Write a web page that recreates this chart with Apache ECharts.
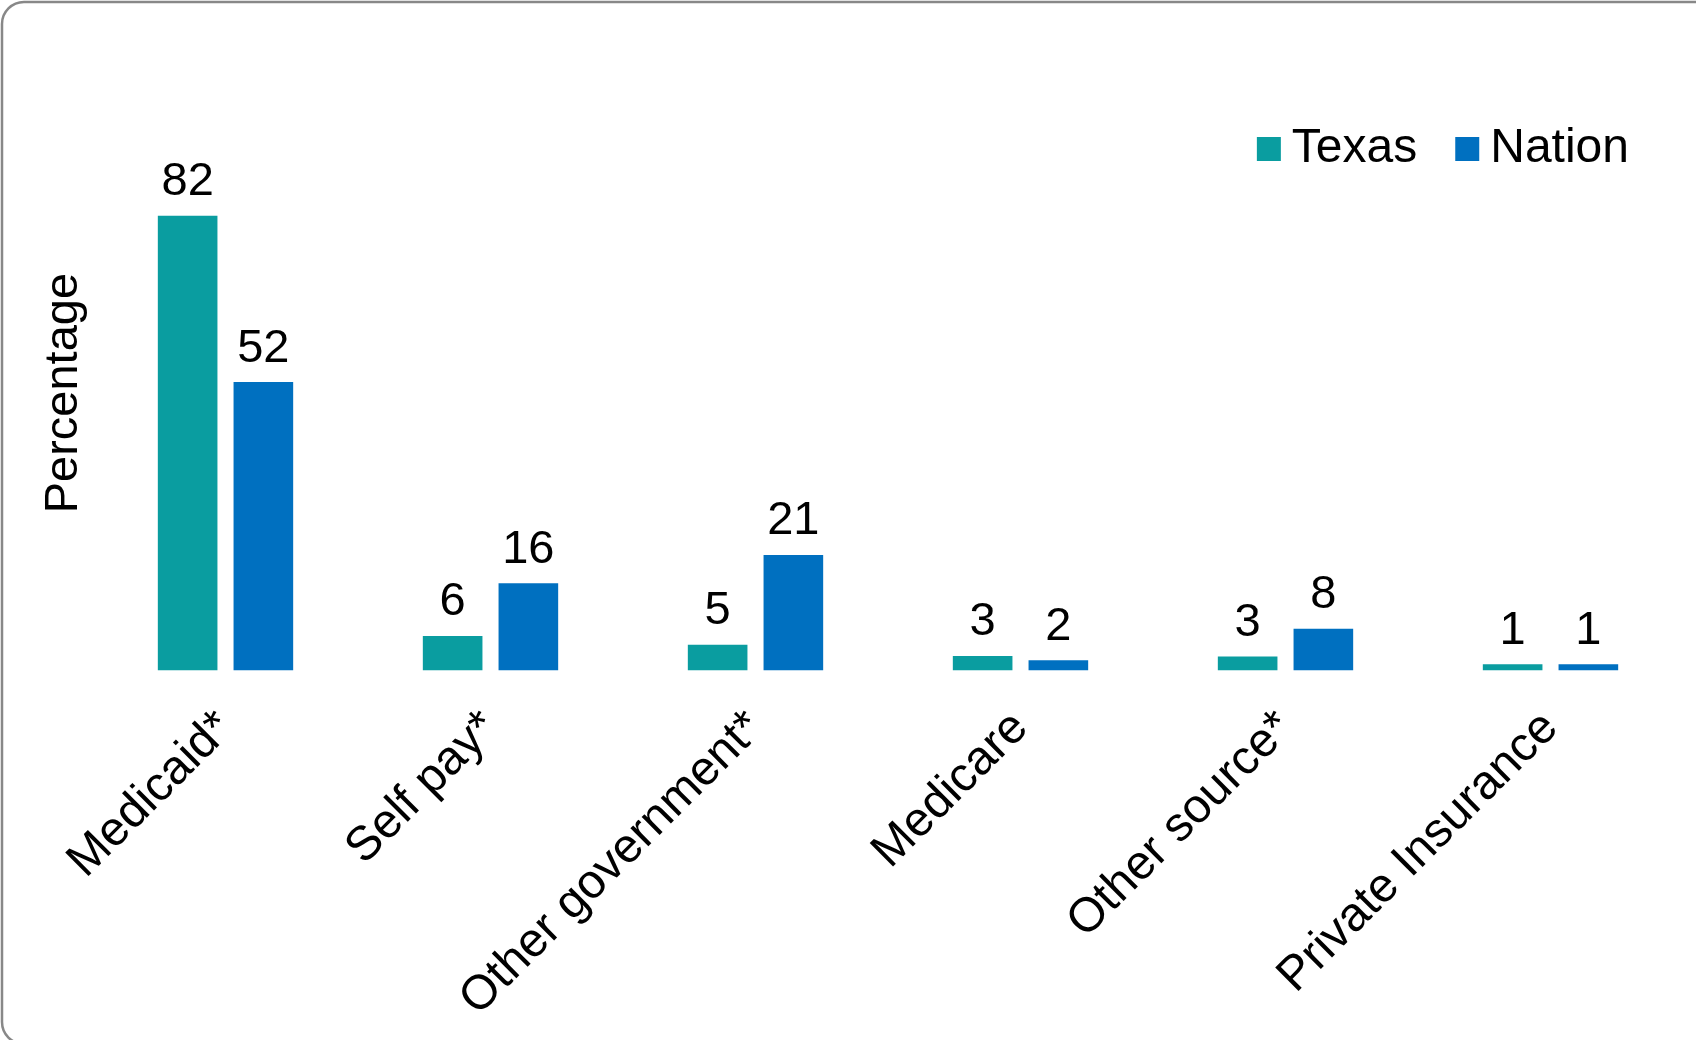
<!DOCTYPE html>
<html>
<head>
<meta charset="utf-8">
<script src="https://cdn.jsdelivr.net/npm/echarts@6/dist/echarts.min.js"></script>
<style>
html,body{margin:0;padding:0;background:#fff;}
#chart{width:1696px;height:1040px;}
</style>
</head>
<body>
<div id="chart"></div>
<script>
const categories = ['Medicaid*', 'Self pay*', 'Other government*', 'Medicare', 'Other source*', 'Private Insurance'];
const texasValues = [82, 6.2, 4.6, 2.6, 2.5, 1.1];
const nationValues = [52, 15.7, 20.8, 1.8, 7.5, 1.1];
const seriesNames = ['Texas', 'Nation'];
const yAxisTitle = 'Percentage';

const FONT = '"Liberation Sans", Arial, sans-serif';
const chart = echarts.init(document.getElementById('chart'));
const labelCfg = {
  show: true, position: 'top', distance: 10,
  fontFamily: FONT, fontSize: 47, color: '#000',
  formatter: p => Math.round(p.value)
};
chart.setOption({
  animation: false,
  backgroundColor: '#fff',
  graphic: [{
    type: 'rect', silent: true,
    shape: {x: 2, y: 2, width: 1740, height: 1042, r: 22},
    style: {fill: 'none', stroke: '#888', lineWidth: 2.5}
  }],
  legend: {
    data: seriesNames, right: 62, top: 120,
    itemWidth: 24, itemHeight: 24, itemGap: 38,
    icon: 'rect',
    textStyle: {fontFamily: FONT, fontSize: 48, color: '#000', padding: [0, 0, 0, 6]}
  },
  grid: {left: 93, right: 13, top: 116, bottom: 369.7, containLabel: false},
  xAxis: {
    type: 'category', data: categories,
    axisLine: {show: false}, axisTick: {show: false},
    axisLabel: {
      interval: 0, rotate: 45, margin: 50,
      fontFamily: FONT, fontSize: 48, color: '#000'
    }
  },
  yAxis: {
    type: 'value', min: 0, max: 100,
    axisLine: {show: false}, axisTick: {show: false},
    axisLabel: {show: false}, splitLine: {show: false},
    name: yAxisTitle, nameLocation: 'middle', nameGap: 5,
    nameTextStyle: {fontFamily: FONT, fontSize: 47, color: '#000'}
  },
  series: [
    {name: seriesNames[0], type: 'bar', data: texasValues, barWidth: '22.5%', barGap: '27%',
     itemStyle: {color: '#0A9DA0'}, label: labelCfg},
    {name: seriesNames[1], type: 'bar', data: nationValues, barWidth: '22.5%', barGap: '27%',
     itemStyle: {color: '#0070C0'}, label: labelCfg}
  ]
});
</script>
</body>
</html>
